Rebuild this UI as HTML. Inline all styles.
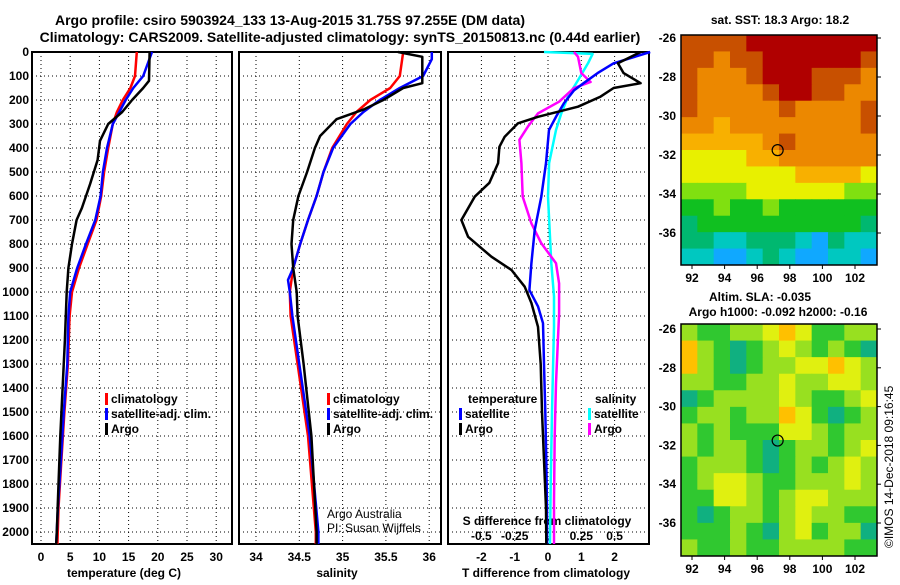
<!DOCTYPE html>
<html><head><meta charset="utf-8"><style>
body{margin:0;background:#fff;}
svg text{font-family:"Liberation Sans",sans-serif;font-weight:bold;fill:#000;}
</style></head><body>
<svg id="c" width="900" height="580" xmlns="http://www.w3.org/2000/svg">
<text x="290" y="25" font-size="14" text-anchor="middle">Argo profile: csiro 5903924_133 13-Aug-2015 31.75S 97.255E (DM data)</text>
<text x="340" y="42" font-size="14" text-anchor="middle">Climatology: CARS2009. Satellite-adjusted climatology: synTS_20150813.nc (0.44d earlier)</text>
<text x="780" y="24" font-size="12" text-anchor="middle">sat. SST: 18.3 Argo: 18.2</text>
<text x="760" y="301" font-size="12" text-anchor="middle">Altim. SLA: -0.035</text>
<text x="778" y="316" font-size="12" text-anchor="middle">Argo h1000: -0.092 h2000: -0.16</text>
<text transform="translate(893,548) rotate(-90)" font-size="12" style="font-weight:normal">©IMOS 14-Dec-2018 09:16:45</text>
<text x="327" y="518" font-size="12" style="font-weight:normal">Argo Australia</text>
<text x="327" y="532" font-size="12" style="font-weight:normal">PI: Susan Wijffels</text>
</svg>
<script>
// ---------- data ----------
var depthTicks=[0,100,200,300,400,500,600,700,800,900,1000,1100,1200,1300,1400,1500,1600,1700,1800,1900,2000];
var tempTicks=[0,5,10,15,20,25,30];
var salTicks=[34,34.5,35,35.5,36];
var salTickLabels=["34","34.5","35","35.5","36"];
var tdiffTicks=[-2,-1,0,1,2];
var sdiffTicks=[-0.5,-0.25,0,0.25,0.5];
var sdiffLabels=["-0.5","-0.25","0","0.25","0.5"];

var argoTdepth=[0,120,150,200,250,300,370,450,550,650,700,800,900,1000,1200,1400,1600,1800,2000,2050];
var argoTemp=[18.6,18.5,17.5,15.6,13.9,11.5,10.1,9.7,8.4,7.0,6.1,5.3,4.7,4.4,4.1,3.7,3.3,3.0,2.7,2.6];
var climTdepth=[0,100,150,200,250,300,400,500,600,700,800,900,1000,1100,1300,1500,1700,1900,2050];
var climTemp=[16.4,16.1,15.3,14.0,13.0,12.3,11.5,10.8,10.3,9.5,8.0,6.5,5.3,4.9,4.6,4.0,3.5,3.0,2.8];
var satTdepth=[0,100,150,200,250,300,400,500,600,700,800,900,1000,1100,1300,1500,1700,1900,2050];
var satTemp=[19.0,17.5,15.8,14.5,13.4,12.3,11.3,10.6,10.2,9.3,7.7,6.2,5.0,4.7,4.5,3.9,3.4,2.9,2.6];

var argoSdepth=[0,20,130,150,200,240,280,350,400,500,600,700,800,900,1000,1100,1300,1600,2000,2050];
var argoSal=[35.64,35.92,35.92,35.70,35.47,35.24,34.93,34.74,34.68,34.59,34.49,34.43,34.41,34.43,34.47,34.48,34.55,34.64,34.70,34.70];
var climSdepth=[0,100,150,200,250,300,400,500,600,700,800,900,1000,1100,1300,1600,2000,2050];
var climSal=[35.70,35.66,35.55,35.32,35.16,35.05,34.88,34.78,34.70,34.60,34.51,34.43,34.39,34.40,34.48,34.60,34.69,34.69];
var satSdepth=[0,30,100,150,200,250,300,400,500,600,700,800,900,950,1000,1100,1300,1600,2000,2050];
var satSal=[36.03,36.03,35.93,35.66,35.43,35.24,35.09,34.89,34.78,34.70,34.60,34.51,34.43,34.37,34.39,34.42,34.50,34.62,34.72,34.72];

var dTdepthArgo=[0,47,88,130,150,186,228,270,297,353,395,463,545,603,700,770,853,908,978,1046,1145,1300,1500,1700,1900,2050];
var dTargo=[2.78,2.1,2.27,2.78,1.97,1.58,0.9,-0.3,-0.9,-1.3,-1.46,-1.5,-1.76,-2.2,-2.6,-2.4,-1.7,-1.1,-0.7,-0.5,-0.3,-0.22,-0.18,-0.12,-0.06,-0.05];
var dTdepthSat=[0,47,88,130,160,213,270,325,463,603,742,880,992,1060,1130,1300,1500,1700,1900,2050];
var dTsat=[3.07,1.97,1.49,1.07,0.78,0.48,0.24,0.03,-0.06,-0.2,-0.4,-0.5,-0.56,-0.3,-0.15,-0.12,-0.08,-0.05,-0.03,-0.03];
var dSdepthArgo=[0,20,88,125,150,207,256,310,366,463,603,714,797,880,964,1089,1380,1600,1867,2050];
var dSargo=[0.195,0.225,0.25,0.32,0.195,0.083,-0.075,-0.15,-0.215,-0.2,-0.19,-0.125,-0.05,0.06,0.083,0.083,0.06,0.05,0.045,0.045];
var dSdepthSat=[0,8,47,118,186,256,325,463,603,880,1018,1145,1500,1800,2050];
var dSsat=[-0.03,0.335,0.3,0.225,0.15,0.1,0.06,0.008,0,0.025,0.045,0.045,0.03,0.02,0.015];

var sstGrid=[
[9,9,9,9,10,10,10,10,10,10,10,10],
[9,9,8,9,9,10,10,10,10,10,10,9],
[9,8,8,8,9,10,10,10,9,9,9,8],
[9,8,8,8,8,9,10,10,9,9,8,8],
[9,8,8,8,8,8,9,8,8,8,8,9],
[8,8,7,8,8,8,8,8,8,8,8,9],
[7,7,7,7,7,8,9,8,8,8,8,8],
[6,6,6,6,7,7,8,8,8,8,8,8],
[6,6,6,6,6,6,6,7,7,7,7,6],
[5,5,5,5,6,6,6,6,6,6,5,5],
[4,4,5,4,4,5,4,4,4,4,4,4],
[3,4,4,4,4,4,4,4,4,4,4,3],
[3,3,2,2,3,3,3,2,1,3,2,2],
[2,2,1,1,2,3,2,1,1,2,2,1]];
var slaGrid=[
[5,4,4,5,5,6,7,6,4,4,5,5],
[7,5,4,3,4,5,6,5,4,5,4,3],
[7,5,4,3,4,5,5,6,6,7,6,5],
[5,5,4,4,5,5,6,5,5,6,6,5],
[3,4,5,5,5,5,6,5,4,4,5,6],
[4,5,5,4,5,5,7,6,4,3,4,5],
[5,4,5,4,4,4,6,6,5,4,5,5],
[5,4,5,5,4,3,4,5,5,4,5,6],
[4,5,5,5,4,3,4,5,4,5,6,5],
[4,5,6,6,5,4,4,5,5,5,6,5],
[4,4,6,6,5,4,5,6,6,5,5,5],
[4,3,4,5,5,4,5,6,5,5,4,4],
[4,4,4,5,4,3,5,6,4,5,5,3],
[5,4,4,5,4,4,5,5,5,5,4,4]];
var latTicks=[-26,-28,-30,-32,-34,-36];
var lonTicks=[92,94,96,98,100,102];
var argoLon=97.255, argoLat=-31.75;

// ---------- helpers ----------
var NS="http://www.w3.org/2000/svg", svg=document.getElementById('c');
function mk(t,a,p){var e=document.createElementNS(NS,t);for(var k in a)e.setAttribute(k,a[k]);(p||svg).appendChild(e);return e;}
var yD=function(d){return 52+d*0.24;};
var xT=function(t){return 41+t*5.84;};
var xS=function(s){return 256+(s-34)*86.6;};
var xdT=function(t){return 548+t*33.3;};
var xdS=function(s){return 548+s*133.2;};
var panels=[[32,232],[239,441],[448,649]];
var TOP=52,BOT=544;

panels.forEach(function(p,i){
  var g=mk('g',{});
  
  
  depthTicks.forEach(function(d){
    var l=mk('line',{x1:p[0],x2:p[1],y1:yD(d),y2:yD(d),stroke:'#000','stroke-width':1,'stroke-dasharray':'1,3'},g);
    
    
  });
  var xs=i==0?tempTicks.map(xT):i==1?salTicks.map(xS):tdiffTicks.map(xdT);
  xs.forEach(function(x){
    var l=mk('line',{x1:x,x2:x,y1:TOP,y2:BOT,stroke:'#000','stroke-width':1,'stroke-dasharray':'1,3'},g);
    
    
  });
  var r=mk('rect',{x:p[0],y:TOP,width:p[1]-p[0],height:BOT-TOP,fill:'none',stroke:'#000','stroke-width':2},g);
  
  
});
depthTicks.forEach(function(d){
  var t=mk('text',{x:29,y:yD(d)+4,'font-size':12,'text-anchor':'end'});t.textContent=d;
  
  
});
function xlabels(ticks,labels,fx,y){ticks.forEach(function(v,i){var t=mk('text',{x:fx(v),y:y,'font-size':12,'text-anchor':'middle'});t.textContent=labels?labels[i]:v;
  
  });}
xlabels(tempTicks,null,xT,561);
xlabels(salTicks,salTickLabels,xS,561);
xlabels(tdiffTicks,null,xdT,561);
xlabels(sdiffTicks,sdiffLabels,xdS,540);
function title(x,y,s,name){var t=mk('text',{x:x,y:y,'font-size':12,'text-anchor':'middle'});t.textContent=s;
  
  }
title(124,577,'temperature (deg C)','temperature-axis-title');
title(337,577,'salinity','salinity-axis-title');
title(546,577,'T difference from climatology','tdiff-axis-title');
title(547,525,'S difference from climatology','sdiff-axis-title');

function line(ds,vs,fx,col,name){
  var pts=ds.map(function(d,i){return fx(vs[i]).toFixed(1)+','+yD(d).toFixed(1);}).join(' ');
  var l=mk('polyline',{points:pts,fill:'none',stroke:col,'stroke-width':2.5,'stroke-linejoin':'round'});
  
  
}
line(climTdepth,climTemp,xT,'#ff0000','temp-climatology-line');
line(satTdepth,satTemp,xT,'#0000ff','temp-satellite-line');
line(argoTdepth,argoTemp,xT,'#000','temp-argo-line');
line(climSdepth,climSal,xS,'#ff0000','sal-climatology-line');
line(satSdepth,satSal,xS,'#0000ff','sal-satellite-line');
line(argoSdepth,argoSal,xS,'#000','sal-argo-line');
line(dSdepthSat,dSsat,xdS,'#00ffff','sdiff-satellite-line');
line(dSdepthArgo,dSargo,xdS,'#ff00ff','sdiff-argo-line');
line(dTdepthSat,dTsat,xdT,'#0000ff','tdiff-satellite-line');
line(dTdepthArgo,dTargo,xdT,'#000','tdiff-argo-line');

function leg(x,y,col,s,name){
  if(col){var r=mk('rect',{x:x,y:y-10,width:3,height:12,fill:col});
  
  }
  var t=mk('text',{x:x+(col?6:0),y:y,'font-size':12});t.textContent=s;
  
  
}
leg(105,403,'#ff0000','climatology','legend-climatology');
leg(105,418,'#0000ff','satellite-adj. clim.','legend-satellite-adj');
leg(105,433,'#000','Argo','legend-argo');
leg(327,403,'#ff0000','climatology','legend2-climatology');
leg(327,418,'#0000ff','satellite-adj. clim.','legend2-satellite-adj');
leg(327,433,'#000','Argo','legend2-argo');
leg(468,403,null,'temperature','legend-temperature-heading');
leg(459,418,'#0000ff','satellite','legend-tdiff-satellite');
leg(459,433,'#000','Argo','legend-tdiff-argo');
leg(595,403,null,'salinity','legend-salinity-heading');
leg(588,418,'#00ffff','satellite','legend-sdiff-satellite');
leg(588,433,'#ff00ff','Argo','legend-sdiff-argo');

// ---------- maps ----------
var cmapSST=['#0000ff','#10a8ff','#00c8c0','#00b870','#10c020','#80e010','#e8f000','#f8b000','#ec8800','#c85000','#b00000'];
var cmapSLA=['#0000ff','#10a8ff','#00c8c0','#10b080','#30c830','#98e020','#e0f010','#ffc000','#f09000','#d86000','#b00000'];
function map(grid,cmap,x0,x1,y0,y1,yLat,name){
  var g=mk('g',{});
  
  
  var rows=grid.length,cols=grid[0].length,cw=(x1-x0)/cols,ch=(y1-y0)/rows;
  grid.forEach(function(row,r){row.forEach(function(v,c){
    var e=mk('rect',{x:x0+c*cw,y:y0+r*ch,width:cw+0.5,height:ch+0.5,fill:cmap[v]},g);
    
    
  });});
  var fr=mk('rect',{x:x0,y:y0,width:x1-x0,height:y1-y0,fill:'none',stroke:'#000','stroke-width':1.5},g);
  
  
  var xL=function(lon){return 692+(lon-92)*16.3;};
  latTicks.forEach(function(l){var y=yLat(l);
    mk('line',{x1:x1,x2:x1+4,y1:y,y2:y,stroke:'#000'},g);
    var t=mk('text',{x:x0-5,y:y+4,'font-size':12,'text-anchor':'end'},g);t.textContent=l;
    
    });
  lonTicks.forEach(function(l){var x=xL(l);
    mk('line',{x1:x,x2:x,y1:y1,y2:y1+4,stroke:'#000'},g);
    var t=mk('text',{x:x,y:y1+17,'font-size':12,'text-anchor':'middle'},g);t.textContent=l;
    
    });
  var c=mk('circle',{cx:xL(argoLon),cy:yLat(argoLat),r:5.5,fill:'none',stroke:'#000','stroke-width':1.2},g);
  
  
}
map(sstGrid,cmapSST,681,877,35,265,function(l){return 38+(-26-l)*19.5;},'sst-map');
map(slaGrid,cmapSLA,681,877,324,556,function(l){return 329+(-26-l)*19.4;},'sla-map');
</script>
</body></html>
